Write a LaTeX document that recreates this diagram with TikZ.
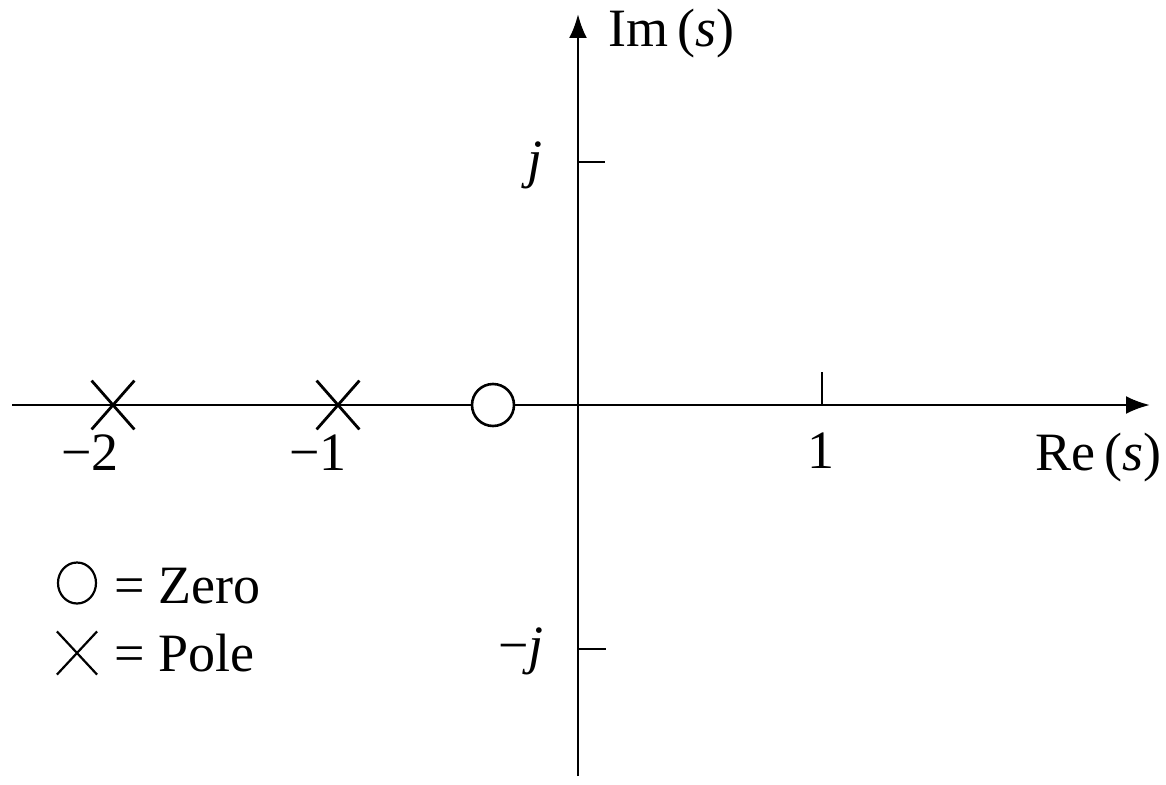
\documentclass[tikz,border=0pt]{standalone}
\usepackage{fontspec}
\setmainfont{Liberation Serif}
\usetikzlibrary{arrows.meta,shapes.misc,shapes.geometric}
\tikzset{
  axis/.style={line width=2.8pt,-{Latex[length=24pt,width=18pt]}},
  tickline/.style={line width=2.4pt},
  polemark/.style={cross out,draw,line width=2.8pt,minimum width=40pt,minimum height=46pt,inner sep=0pt},
  zeromark/.style={circle,draw,fill=white,line width=2.6pt,minimum size=42pt,inner sep=0pt},
  legzero/.style={ellipse,draw,line width=2.2pt,minimum width=38pt,minimum height=41pt,inner sep=0pt},
  legpole/.style={cross out,draw,line width=2.2pt,minimum width=38pt,minimum height=41pt,inner sep=0pt},
  lbl/.style={inner sep=0pt,font=\fontsize{54}{58}\selectfont}
}
\begin{document}
\begin{tikzpicture}[x=1pt,y=-1pt]
\useasboundingbox (0,0) rectangle (1166,784);
\fill[white] (0,0) rectangle (1166,784);
% axes
\coordinate (O) at (578,405);
\coordinate (xL) at (12,405);
\coordinate (xR) at (1150,405);
\coordinate (yB) at (578,776);
\coordinate (yT) at (578,14);
\draw[axis] (xL) -- (xR);
\draw[axis] (yB) -- (yT);
% ticks
\coordinate (jA) at (578,162);
\coordinate (jB) at (605,162);
\coordinate (mjA) at (578,649);
\coordinate (mjB) at (606,649);
\coordinate (oneA) at (822,405);
\coordinate (oneB) at (822,372);
\draw[tickline] (jA) -- (jB);
\draw[tickline] (mjA) -- (mjB);
\draw[tickline] (oneA) -- (oneB);
% poles and zero
\node[polemark] (p2) at (113,405) {};
\node[polemark] (p1) at (338,405) {};
\node[zeromark] (z) at (493,405) {};
% labels
\node[lbl,anchor=west] (im) at (608,34) {Im\,(\textit{s})};
\node[lbl] (lj) at (535,165) {\textit{j}};
\node[lbl] (lmj) at (521,651) {−\textit{j}};
\node[lbl,anchor=base] (l2) at (90,470) {−2};
\node[lbl,anchor=base] (l1) at (318,470) {−1};
\node[lbl,anchor=base] (l1p) at (821,468) {1};
\node[lbl,anchor=base east] (re) at (1162,470) {Re\,(\textit{s})};
% legend
\node[legzero] (lz) at (77,583) {};
\node[legpole] (lp) at (77,653) {};
\node[lbl,anchor=base west] (tz) at (114,603) {= Zero};
\node[lbl,anchor=base west] (tp) at (114,671) {= Pole};
\end{tikzpicture}
\end{document}
